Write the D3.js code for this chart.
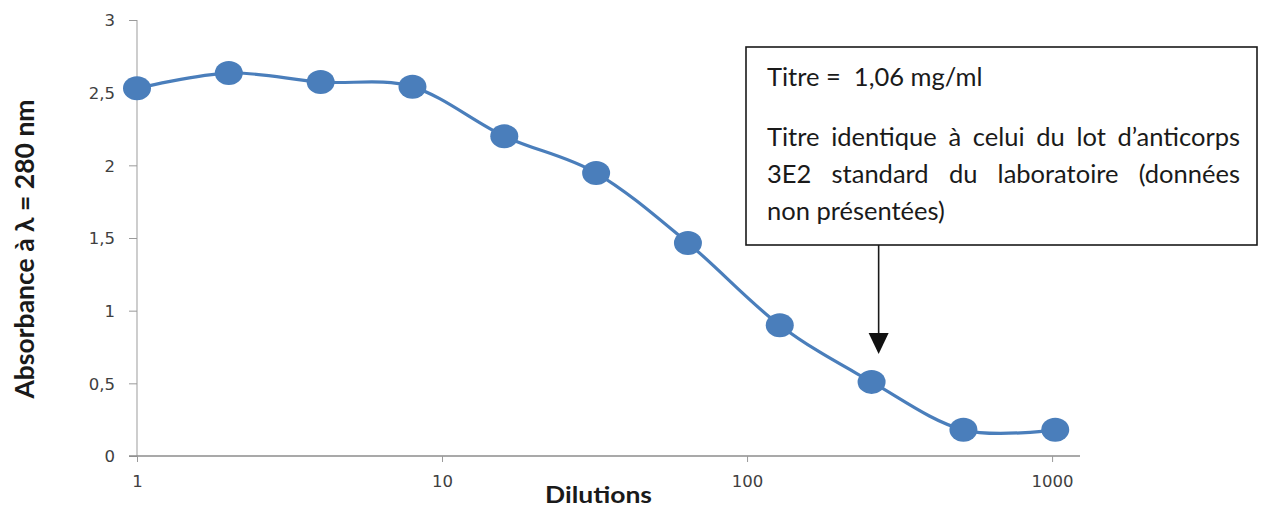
<!DOCTYPE html>
<html>
<head>
<meta charset="utf-8">
<script src="https://cdn.jsdelivr.net/npm/d3@7"></script>
<style>
  body { margin: 0; background: #fff; }
  svg { display: block; }
</style>
</head>
<body>
<div id="chart"></div>
<script>
// dilution series (log2 steps) and measured absorbance
var dilutions   = [1, 2, 4, 8, 16, 32, 64, 128, 256, 512, 1024];
var absorbances = [2.53, 2.635, 2.573, 2.54, 2.20, 1.947, 1.466, 0.90, 0.51, 0.18, 0.18];

var yTicks = [0, 0.5, 1, 1.5, 2, 2.5, 3];
var xTicks = [1, 10, 100, 1000];

var noteTitle = 'Titre =  1,06 mg/ml';
var noteLines = [
    'Titre identique à celui du lot d’anticorps',
    '3E2 standard du laboratoire (données',
    'non présentées)'
];
var noteDilution = 270;

var W = 1277, H = 509;
var margin = { left: 137, top: 20, right: 199, bottom: 53 };
var width = W - margin.left - margin.right;
var height = H - margin.top - margin.bottom;

var sx = d3.scaleLog().domain([1, 1216]).range([0, width]);
var sy = d3.scaleLinear().domain([0, 3]).range([height, 0]);

var svg = d3.select('#chart').append('svg')
    .attr('width', W)
    .attr('height', H);

var g = svg.append('g')
    .attr('transform', 'translate(' + margin.left + ', ' + margin.top + ')');

var fmt = function(d) { return String(d).replace('.', ','); };

// axes
var ay = d3.axisLeft(sy)
    .tickValues(yTicks)
    .tickSize(8)
    .tickPadding(14)
    .tickFormat(fmt);
var ax = d3.axisBottom(sx)
    .tickValues(xTicks)
    .tickSize(6)
    .tickPadding(13)
    .tickFormat(function(d) { return d; });

var gy = g.append('g').call(ay);
var gx = g.append('g').attr('transform', 'translate(0, ' + height + ')').call(ax);

gy.select('.domain').attr('stroke', '#b3b3b3').attr('stroke-width', 1.3)
    .attr('d', 'M0,0V' + height);
gy.selectAll('.tick line').attr('stroke', '#9a9a9a');
gx.select('.domain').attr('stroke', '#8c8c8c').attr('stroke-width', 1.3)
    .attr('d', 'M-8,0H' + (width + 2));
gx.selectAll('.tick line').attr('stroke', '#9a9a9a');

gx.attr('font-size', 16.5).attr('font-family', 'DejaVu Sans');
gy.attr('font-size', 16.5).attr('font-family', 'DejaVu Sans');
svg.selectAll('.tick text').attr('fill', '#404040');
gy.selectAll('.tick text').attr('dy', '0.36em');

// line + markers
var blue = '#4a7ebb';
var pts = dilutions.map(function(d, i) { return [d, absorbances[i]]; });

var line = d3.line()
    .x(function(d) { return sx(d[0]); })
    .y(function(d) { return sy(d[1]); })
    .curve(d3.curveCardinal.tension(0));

g.append('path')
    .datum(pts)
    .attr('fill', 'none')
    .attr('stroke', blue)
    .attr('stroke-width', 3.2)
    .attr('d', line);

g.selectAll('.pt').data(pts).enter()
    .append('ellipse')
    .attr('class', 'pt')
    .attr('cx', function(d) { return sx(d[0]); })
    .attr('cy', function(d) { return sy(d[1]); })
    .attr('rx', 14)
    .attr('ry', 12)
    .attr('fill', blue);

// axis titles
svg.append('text')
    .attr('x', 545)
    .attr('y', 503)
    .attr('font-family', 'Lato, "Open Sans", sans-serif')
    .attr('font-weight', 'bold')
    .attr('font-size', 22)
    .attr('textLength', 107)
    .attr('lengthAdjust', 'spacingAndGlyphs')
    .attr('fill', '#1a1a1a')
    .text('Dilutions');

svg.append('text')
    .attr('transform', 'translate(34, 249) rotate(-90)')
    .attr('text-anchor', 'middle')
    .attr('font-family', 'Lato, "Open Sans", sans-serif')
    .attr('font-weight', 'bold')
    .attr('font-size', 26.5)
    .attr('fill', '#1a1a1a')
    .text('Absorbance à λ = 280 nm');

// annotation box
var box = { x: 746, y: 47, w: 511, h: 198 };
svg.append('rect')
    .attr('x', box.x)
    .attr('y', box.y)
    .attr('width', box.w)
    .attr('height', box.h)
    .attr('fill', '#fff')
    .attr('stroke', '#1a1a1a')
    .attr('stroke-width', 1.6);

var note = svg.append('g')
    .attr('font-family', 'Lato, "Open Sans", sans-serif')
    .attr('font-size', 25.5)
    .attr('fill', '#1a1a1a');

note.append('text')
    .attr('x', 767)
    .attr('y', 86)
    .attr('xml:space', 'preserve')
    .style('white-space', 'pre')
    .text(noteTitle);

var textLeft = 767, textRight = 1240;
noteLines.forEach(function(l, i) {
    var y = 146 + i * 37;
    var words = l.split(' ');
    var last = i == noteLines.length - 1;
    var nodes = words.map(function(w) {
        return note.append('text').attr('y', y).text(w);
    });
    var widths = nodes.map(function(n) { return n.node().getComputedTextLength(); });
    var total = d3.sum(widths);
    var gap = last ? 6.5 : (textRight - textLeft - total) / (words.length - 1);
    var x = textLeft;
    nodes.forEach(function(n, j) {
        n.attr('x', x);
        x += widths[j] + gap;
    });
});

// arrow from box to the titre point
var ax0 = margin.left + sx(noteDilution);
svg.append('line')
    .attr('x1', ax0).attr('x2', ax0)
    .attr('y1', box.y + box.h).attr('y2', 334)
    .attr('stroke', '#1a1a1a')
    .attr('stroke-width', 1.6);
svg.append('path')
    .attr('d', 'M' + (ax0 - 10) + ',333L' + (ax0 + 10) + ',333L' + ax0 + ',354Z')
    .attr('fill', '#111');
</script>
</body>
</html>
